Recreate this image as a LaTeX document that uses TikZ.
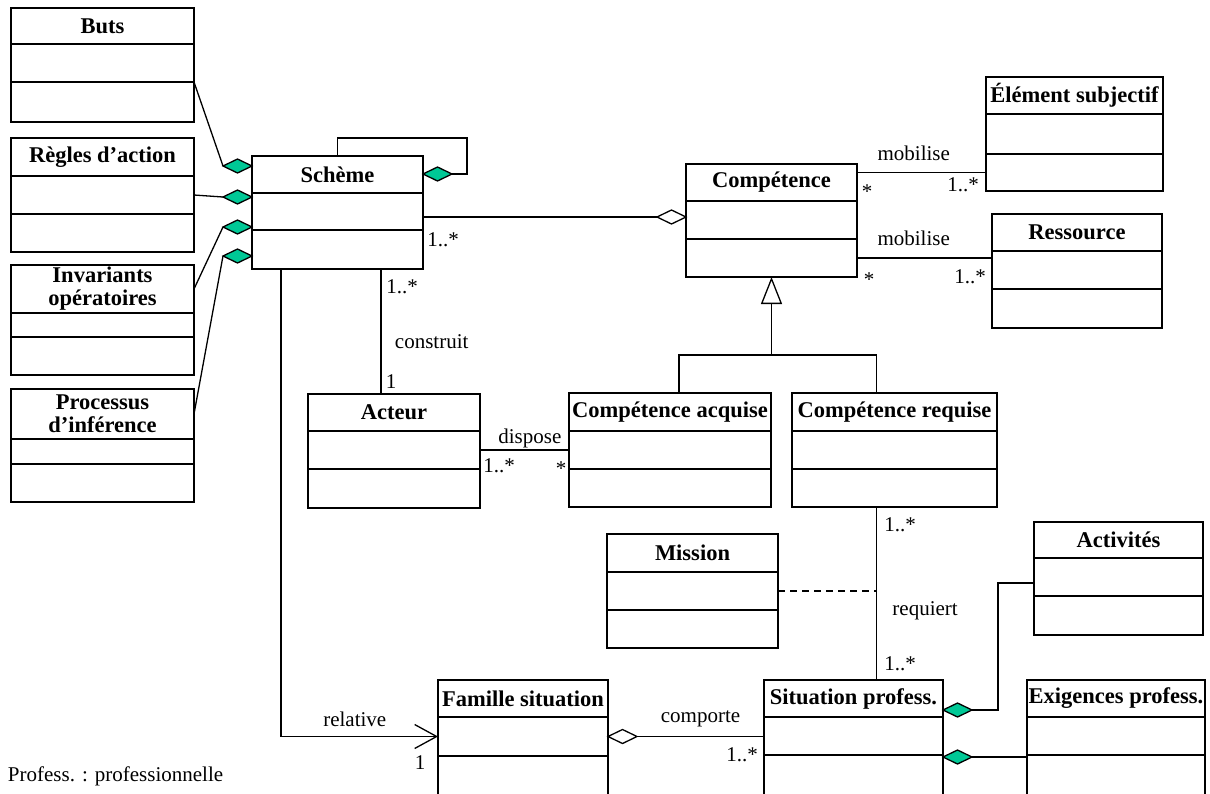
\documentclass[tikz,border=0pt]{standalone}
\usepackage{fontspec}
\setmainfont{Liberation Serif}
\usetikzlibrary{positioning, shapes.geometric, arrows.meta}

\definecolor{aggfill}{RGB}{0,200,150}

\begin{document}
\begin{tikzpicture}[
    x=1pt, y=-1pt,
    line width=1.3pt,
    font=\fontsize{21}{23}\selectfont,
    umlclass/.style={rectangle, draw, inner sep=0pt, outer sep=0pt, minimum width=#1, minimum height=37, anchor=north west, align=center, font=\fontsize{22.5}{23}\selectfont\bfseries},
    umlpart/.style={rectangle, draw, inner sep=0pt, outer sep=0pt, minimum width=#1, minimum height=38},
    compo/.style={diamond, draw, fill=aggfill, aspect=2, minimum width=29, minimum height=14, inner sep=0pt, outer sep=0pt},
    aggr/.style={compo, fill=white},
    gen/.style={-{Triangle[open, length=27pt, width=21pt]}},
    nav/.style={-{Straight Barb[length=22pt, width=24pt]}}
]
\useasboundingbox (0,0) rectangle (1210,793);

% 1. Left column (parts of the Scheme)
\node[umlclass=183, minimum height=36] (buts) at (11,8) {Buts};
\node[umlpart=183, below=0pt of buts] (buts1) {};
\node[umlpart=183, below=0pt of buts1, minimum height=40] (buts2) {};

\node[umlclass=183, minimum height=38] (regles) at (11,138) {Règles d’action};
\node[umlpart=183, below=0pt of regles] (regles1) {};
\node[umlpart=183, below=0pt of regles1] (regles2) {};

\node[umlclass=183, minimum height=48] (invariants) at (11,265) {Invariants\\opératoires};
\node[umlpart=183, below=0pt of invariants, minimum height=24] (invariants1) {};
\node[umlpart=183, below=0pt of invariants1] (invariants2) {};

\node[umlclass=183, minimum height=50] (processus) at (11,389) {Processus\\d’inférence};
\node[umlpart=183, below=0pt of processus, minimum height=25] (processus1) {};
\node[umlpart=183, below=0pt of processus1] (processus2) {};

% 2. Scheme and competence
\node[umlclass=171] (scheme) at (252,156) {Schème};
\node[umlpart=171, below=0pt of scheme, minimum height=37] (scheme1) {};
\node[umlpart=171, below=0pt of scheme1, minimum height=39] (scheme2) {};

\node[umlclass=171] (competence) at (686,164) {Compétence};
\node[umlpart=171, below=0pt of competence] (competence1) {};
\node[umlpart=171, below=0pt of competence1] (competence2) {};

\node[umlclass=177] (element) at (986,77) {Élément subjectif};
\node[umlpart=177, below=0pt of element, minimum height=40] (element1) {};
\node[umlpart=177, below=0pt of element1, minimum height=37] (element2) {};

\node[umlclass=170] (ressource) at (992,214) {Ressource};
\node[umlpart=170, below=0pt of ressource] (ressource1) {};
\node[umlpart=170, below=0pt of ressource1, minimum height=39] (ressource2) {};

% 3. Middle row
\node[umlclass=172] (acteur) at (308,394) {Acteur};
\node[umlpart=172, below=0pt of acteur] (acteur1) {};
\node[umlpart=172, below=0pt of acteur1, minimum height=39] (acteur2) {};

\node[umlclass=202, minimum height=38] (acquise) at (569,393) {Compétence acquise};
\node[umlpart=202, below=0pt of acquise] (acquise1) {};
\node[umlpart=202, below=0pt of acquise1] (acquise2) {};

\node[umlclass=205, minimum height=38] (requise) at (792,393) {Compétence requise};
\node[umlpart=205, below=0pt of requise] (requise1) {};
\node[umlpart=205, below=0pt of requise1] (requise2) {};

% 4. Bottom rows
\node[umlclass=171, minimum height=38] (mission) at (607,534) {Mission};
\node[umlpart=171, below=0pt of mission] (mission1) {};
\node[umlpart=171, below=0pt of mission1] (mission2) {};

\node[umlclass=169, minimum height=36] (activites) at (1034,522) {Activités};
\node[umlpart=169, below=0pt of activites] (activites1) {};
\node[umlpart=169, below=0pt of activites1, minimum height=39] (activites2) {};

\node[umlclass=170] (famille) at (438,680) {Famille situation};
\node[umlpart=170, below=0pt of famille, minimum height=39] (famille1) {};
\node[umlpart=170, below=0pt of famille1, minimum height=45] (famille2) {};

\node[umlclass=179] (situation) at (764,680) {Situation profess.};
\node[umlpart=179, below=0pt of situation] (situation1) {};
\node[umlpart=179, below=0pt of situation1, minimum height=45] (situation2) {};

\node[umlclass=178] (exigences) at (1027,680) {Exigences profess.};
\node[umlpart=178, below=0pt of exigences] (exigences1) {};
\node[umlpart=178, below=0pt of exigences1, minimum height=45] (exigences2) {};

\node[anchor=west] (note) at (4,776) {Profess. : professionnelle};

% Compositions on the Scheme
\node[compo, anchor=east] (d1) at ([yshift=-10]scheme.north west) {};
\node[compo, anchor=east] (d2) at ([yshift=-41]scheme.north west) {};
\node[compo, anchor=east] (d3) at ([yshift=-71]scheme.north west) {};
\node[compo, anchor=east] (d4) at ([yshift=-100]scheme.north west) {};
\node[compo, anchor=west] (d5) at ([yshift=-18]scheme.north east) {};

\draw (buts1.south east) -- (d1.west);
\draw (regles1.east) -- (d2.west);
\draw (invariants.east) -- (d3.west);
\draw (processus.east) -- (d4.west);

\coordinate (loop) at (467,138);
\draw (d5.east) -| (loop) -| (scheme.north);

% Scheme -- Competence
\node[aggr, anchor=east] (d6) at ([yshift=3]competence1.west) {};
\draw (scheme.east |- d6.west) -- (d6.west);
\node (m1) at (443,240) {1..*};

% mobilise
\draw (competence.east |- element2.west) -- node[above=8pt, pos=0.44] (mob1) {mobilise} (element2.west);
\node (m2) at (867,192) {*};
\node (m3) at (963,185) {1..*};

\draw (competence2.east) -- node[above=8pt, pos=0.42] (mob2) {mobilise} (competence2.east -| ressource.west);
\node (m4) at (869,280) {*};
\node (m5) at (970,277) {1..*};

% Generalisation
\coordinate (genbar) at (0,355);
\draw[gen] (competence2.south |- genbar) -- (competence2.south);
\draw ([xshift=9]acquise.north) |- (competence2.south |- genbar) -| ([xshift=-18]requise.north);

% construit
\draw ([xshift=-13]acteur.north) -- node[right=10pt, pos=0.42] (construit) {construit} ([xshift=-13]acteur.north |- scheme2.south);
\node (m6) at (402,287) {1..*};
\node (m7) at (391,382) {1};

% dispose
\draw (acteur1.east) -- node[above=-2pt, pos=0.56] (dispose) {dispose} (acteur1.east -| acquise.west);
\node (m8) at (499,466) {1..*};
\node (m9) at (561,469) {*};

% requiert
\draw ([xshift=-18]requise2.south) coordinate (reqtop) -- node[right=12pt, pos=0.6] (requiert) {requiert} ([xshift=-18]requise2.south |- situation.north);
\node (m10) at (900,525) {1..*};
\node (m11) at (900,664) {1..*};
\draw[dashed, dash pattern=on 7pt off 5pt] (mission1.east) -- (mission1.east -| reqtop);

% comporte
\node[aggr, anchor=west] (d7) at (famille1.east) {};
\draw (d7.east) -- node[above=6pt] (comporte) {comporte} (d7.east -| situation.west);
\node (m12) at (742,755) {1..*};

% relative
\draw[nav] ([xshift=29]scheme2.south west) |- node[above=6pt, pos=0.735] (relative) {relative} (famille1.west);
\node (m13) at (420,763) {1};

% Situation parts
\node[compo, anchor=west] (d8) at ([yshift=-30]situation.north east) {};
\node[compo, anchor=west] (d9) at ([yshift=-77]situation.north east) {};
\draw (d8.east) -- ++(26,0) |- ([yshift=-6]activites1.west);
\draw (d9.east) -- (d9.east -| exigences.west);

\end{tikzpicture}
\end{document}
